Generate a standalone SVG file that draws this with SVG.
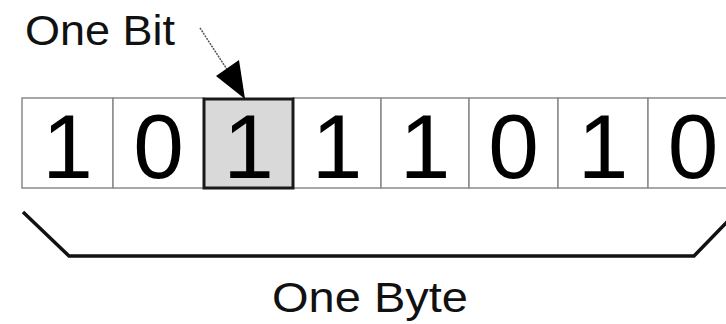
<svg xmlns="http://www.w3.org/2000/svg" width="726" height="324" viewBox="0 0 726 324">
<style>
.cell{fill:#ffffff;stroke:#8a8a8a;stroke-width:1.5}
.sel{fill:#d9d9d9;stroke:#1a1a1a;stroke-width:3}
.digit{font-family:"Liberation Sans",Arial,sans-serif;font-size:91px;fill:#000;text-anchor:middle}
.label{font-family:"Liberation Sans",Arial,sans-serif;font-size:42px;fill:#111}
</style>
<rect width="726" height="324" fill="#ffffff"/>
<g id="label-bit"><text class="label" x="25" y="45" textLength="150" lengthAdjust="spacingAndGlyphs">One Bit</text></g>
<g id="cells">
<g id="bit0"><rect class="cell" x="22" y="98" width="91" height="90"/><text class="digit" x="67.5" y="178">1</text></g>
<g id="bit1"><rect class="cell" x="113" y="98" width="91" height="90"/><text class="digit" x="158.5" y="178">0</text></g>
<g id="bit3"><rect class="cell" x="293" y="98" width="88" height="90"/><text class="digit" x="337" y="178">1</text></g>
<g id="bit4"><rect class="cell" x="381" y="98" width="88" height="90"/><text class="digit" x="425" y="178">1</text></g>
<g id="bit5"><rect class="cell" x="469" y="98" width="89" height="90"/><text class="digit" x="513.5" y="178">0</text></g>
<g id="bit6"><rect class="cell" x="558" y="98" width="90" height="90"/><text class="digit" x="603" y="178">1</text></g>
<g id="bit7"><rect class="cell" x="648" y="98" width="90" height="90"/><text class="digit" x="693" y="178">0</text></g>
<g id="bit2"><rect class="sel" x="204" y="99" width="89" height="89"/><text class="digit" x="248.5" y="178">1</text></g>
</g>
<g id="connectors">
<line x1="200" y1="28" x2="230" y2="74" stroke="#555" stroke-width="1.5" stroke-dasharray="2 1"/>
<polygon points="245,99 216,76 239,60" fill="#000"/>
<polyline points="23,212 69,256 694,256 728,221" fill="none" stroke="#111" stroke-width="3.5"/>
</g>
<g id="label-byte"><text class="label" x="272" y="312" textLength="196" lengthAdjust="spacingAndGlyphs">One Byte</text></g>
</svg>
